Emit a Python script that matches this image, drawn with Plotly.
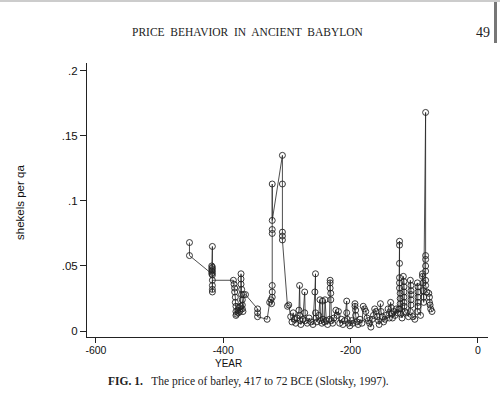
import plotly.graph_objects as go

# ---- data ----
years = [
    -453, -453, -418, -418, -418, -418, -417, -417, -417, -417, -417, -417, -417, -417, -417,
    -384, -383, -382, -382, -381, -381, -380, -380, -380, -379, -377, -376, -375, -374, -373,
    -372, -372, -372, -371, -371, -370, -370, -370, -369, -368, -365, -346, -346, -346, -331, -327,
    -325, -324, -323, -323, -323, -323, -323, -323, -323, -307, -307, -307, -307, -307, -299,
    -297, -294, -292, -290, -288, -286, -284, -281, -280, -280, -279, -278, -275, -272, -272,
    -271, -268, -265, -262, -259, -256, -255, -255, -254, -253, -250, -248, -247, -245, -244,
    -243, -241, -240, -238, -236, -233, -232, -232, -232, -231, -231, -230, -228, -226, -223,
    -221, -219, -217, -214, -212, -209, -206, -206, -205, -203, -201, -198, -196, -193, -193,
    -192, -192, -190, -188, -185, -182, -180, -178, -176, -174, -172, -170, -168, -166, -164,
    -162, -160, -158, -156, -155, -153, -152, -150, -148, -146, -144, -141, -139, -137, -136,
    -135, -134, -132, -130, -128,
    -126, -124, -123, -123, -123, -123, -123, -123, -122, -122, -122, -122, -121, -119, -117,
    -116, -116, -116, -116, -116, -116, -115, -112, -109, -106, -105, -105, -105, -105, -105,
    -106, -102, -99, -95, -94, -94, -94, -94, -94, -95, -90, -87, -87, -86, -86, -85, -85,
    -82, -82, -82, -82, -82, -82, -82, -80, -77, -76, -76, -75, -74, -72,
]
prices = [
    .068, .058, .044, .046, .048, .050, .065, .049, .047, .045, .043, .035, .032, .030, .039,
    .039, .036, .033, .030, .026, .022, .019, .015, .012, .013, .016, .014, .018, .015, .019,
    .044, .040, .036, .032, .028, .024, .020, .017, .015, .028, .028, .017, .014, .011, .009, .022,
    .024, .021, .026, .030, .035, .075, .078, .113, .085, .135, .113, .076, .073, .070, .019,
    .020, .011, .007, .014, .009, .006, .010, .016, .035, .012, .008, .005, .009, .030, .014,
    .008, .006, .010, .007, .005, .030, .044, .014, .010, .007, .012, .024, .008, .006, .023,
    .009, .007, .024, .008, .005, .009, .039, .037, .033, .029, .024, .008, .006, .010, .016,
    .012, .015, .006, .009, .005, .008, .023, .014, .009, .006, .004, .008, .006, .021, .019,
    .016, .012, .007, .005, .009, .006, .019, .017, .015, .010, .008, .006, .003, .009, .012,
    .017, .015, .011, .008, .005, .021, .015, .011, .007, .009, .012, .017, .010, .022, .018,
    .013, .010, .015, .012, .017,
    .014, .017, .069, .066, .052, .041, .037, .033, .029, .025, .021, .017, .013, .010, .042,
    .038, .034, .030, .026, .022, .019, .015, .014, .011, .039, .035, .031, .028, .024, .020,
    .015, .011, .009, .037, .034, .030, .026, .022, .019, .015, .012, .044, .042, .037, .031, .026, .022,
    .168, .058, .055, .050, .046, .039, .035, .030, .029, .026, .022, .020, .017, .015,
]

x_ticks = [-600, -400, -200, 0]
x_tick_text = ["-600", "-400", "-200", "0"]
y_ticks = [0, 0.05, 0.1, 0.15, 0.2]
y_tick_text = ["0", ".05", ".1", ".15", ".2"]

header_text = "PRICE  BEHAVIOR  IN  ANCIENT  BABYLON"
page_number = "49"
caption = "<b>FIG. 1.</b>   The price of barley, 417 to 72 BCE (Slotsky, 1997)."

# ---- figure ----
L, R, T, B = 87, 12, 63, 70
W, H = 500, 407
pw, ph = W - L - R, H - T - B


def px(x):
    return (x - L) / pw


def py(y):
    return (H - B - y) / ph


fig = go.Figure()
fig.add_trace(go.Scatter(
    x=years, y=prices, mode="lines+markers",
    line=dict(color="#222222", width=0.8),
    marker=dict(symbol="circle-open", size=6, color="#222222", line=dict(width=0.9)),
    showlegend=False, hoverinfo="x+y",
))

sans = "Liberation Sans, Arial, sans-serif"
serif = "Liberation Serif, Times New Roman, serif"

fig.update_layout(
    width=W, height=H,
    margin=dict(l=L, r=R, t=T, b=B),
    paper_bgcolor="white", plot_bgcolor="white",
    xaxis=dict(
        range=[-614, 16], tickvals=x_ticks, ticktext=x_tick_text,
        showline=True, linecolor="#222", linewidth=1, showgrid=False, zeroline=False,
        ticks="outside", ticklen=5, tickcolor="#222", tickwidth=1,
        ticklabelstandoff=-2,
        tickfont=dict(family=sans, size=10.5, color="#111"),
    ),
    yaxis=dict(
        range=[-0.0046, 0.206], tickvals=y_ticks, ticktext=y_tick_text,
        showline=True, linecolor="#222", linewidth=1, showgrid=False, zeroline=False,
        ticks="outside", ticklen=6, tickcolor="#222", tickwidth=1,
        tickfont=dict(family=sans, size=11.5, color="#111"),
    ),
    annotations=[
        dict(text=header_text, x=px(248), y=py(32), xref="paper", yref="paper",
             showarrow=False, xanchor="center", yanchor="middle",
             font=dict(family=serif, size=11.5, color="#222")),
        dict(text=page_number, x=px(483), y=py(32), xref="paper", yref="paper",
             showarrow=False, xanchor="center", yanchor="middle",
             font=dict(family=serif, size=14, color="#222")),
        dict(text="shekels per qa", x=px(20), y=py(203), xref="paper", yref="paper",
             showarrow=False, xanchor="center", yanchor="middle", textangle=-90,
             font=dict(family=sans, size=11.5, color="#111")),
        dict(text="YEAR", x=px(228), y=py(363), xref="paper", yref="paper",
             showarrow=False, xanchor="center", yanchor="middle",
             font=dict(family=sans, size=10, color="#111")),
        dict(text=caption, x=px(248), y=py(381), xref="paper", yref="paper",
             showarrow=False, xanchor="center", yanchor="middle",
             font=dict(family=serif, size=11.5, color="#222")),
    ],
    shapes=[
        dict(type="rect", xref="paper", yref="paper",
             x0=px(494), x1=px(497), y0=py(43), y1=py(0),
             fillcolor="#777", line=dict(width=0)),
        dict(type="line", xref="paper", yref="paper",
             x0=px(0), x1=px(500), y0=py(1), y1=py(1),
             line=dict(color="#ccc", width=2)),
    ],
)

fig.write_html("out.html")
